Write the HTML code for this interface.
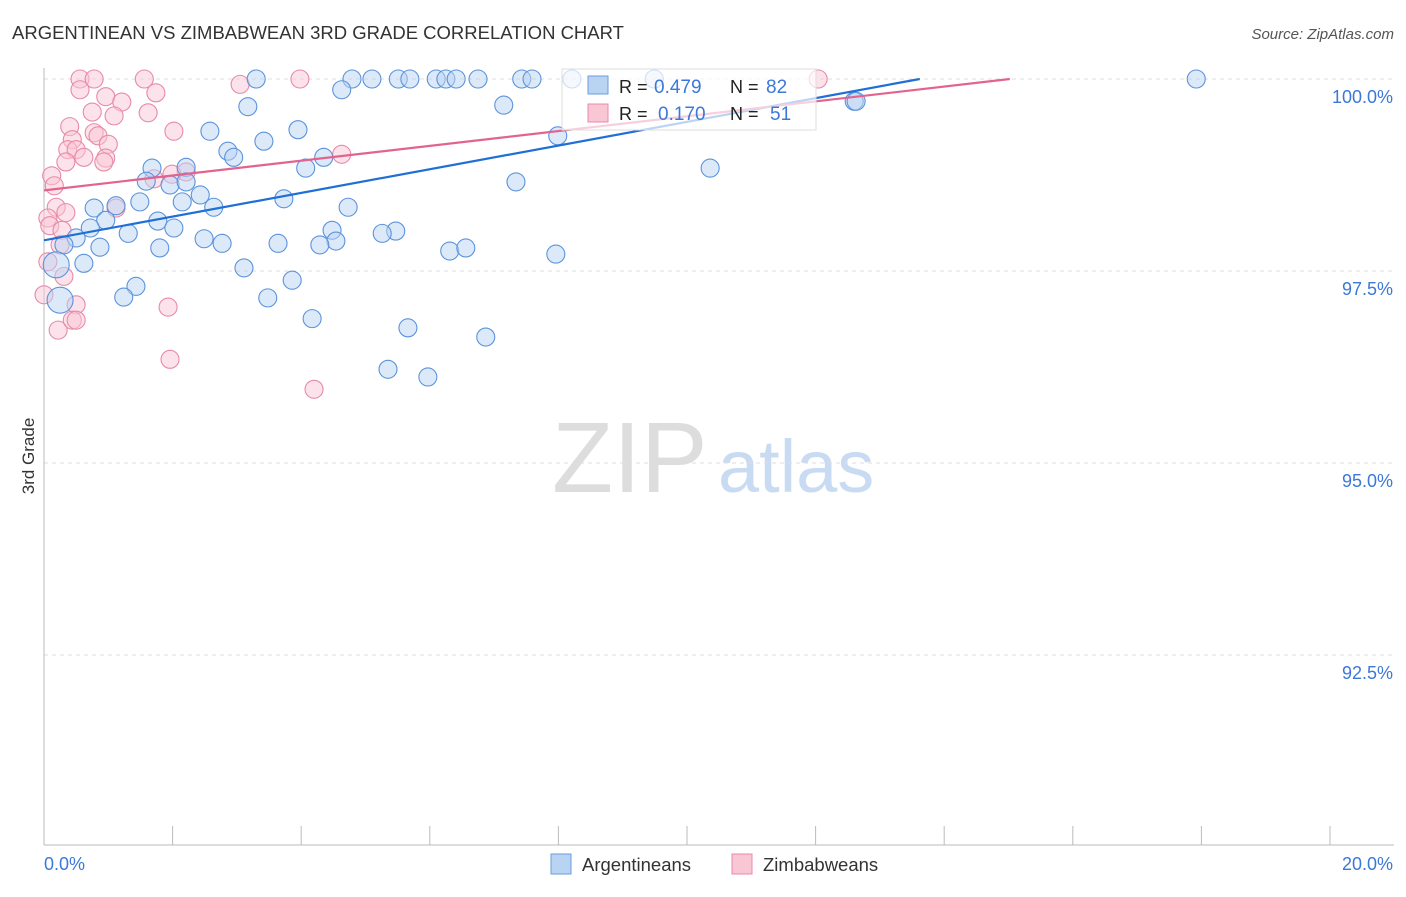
<!DOCTYPE html>
<html><head><meta charset="utf-8"><style>
body{margin:0;background:#fff;font-family:"Liberation Sans",sans-serif}
svg text{font-family:"Liberation Sans",sans-serif}
</style></head><body>
<svg id="c" width="1406" height="892">
<text x="12" y="39" font-size="18.5" fill="#333">ARGENTINEAN VS ZIMBABWEAN 3RD GRADE CORRELATION CHART</text>
<text x="1394" y="39" font-size="15" font-style="italic" fill="#555" text-anchor="end">Source: ZipAtlas.com</text>
<text x="552" y="492" font-size="100" font-family="Liberation Serif" fill="#ddd">ZIP</text>
<text x="718" y="492" font-size="74" fill="#c9dbf2">atlas</text>
<text transform="translate(34,456) rotate(-90)" font-size="17" fill="#333" text-anchor="middle">3rd Grade</text>
<g id="grid"></g><g id="pts"></g><g id="lines"></g>
<g>
<rect x="562" y="69" width="254" height="61" fill="#fff" fill-opacity="0.7" stroke="#ddd"/>
<rect x="588" y="76" width="20" height="18" fill="#b9d3f3" stroke="#6a9ee0"/>
<text x="619" y="93" font-size="18" fill="#222">R =</text>
<text x="654" y="93" font-size="19" fill="#3b78d8">0.479</text>
<text x="730" y="93" font-size="18" fill="#222">N =</text>
<text x="766" y="93" font-size="19" fill="#3b78d8">82</text>
<rect x="588" y="104" width="20" height="18" fill="#f9c6d6" stroke="#e88aa8"/>
<text x="619" y="120" font-size="18" fill="#222">R =</text>
<text x="658" y="120" font-size="19" fill="#3b78d8">0.170</text>
<text x="730" y="120" font-size="18" fill="#222">N =</text>
<text x="770" y="120" font-size="19" fill="#3b78d8">51</text>
</g>
<g>
<rect x="551" y="854" width="20" height="20" fill="#b9d3f3" stroke="#6a9ee0"/>
<text x="582" y="871" font-size="18.5" fill="#333">Argentineans</text>
<rect x="732" y="854" width="20" height="20" fill="#f9c6d6" stroke="#e88aa8"/>
<text x="763" y="871" font-size="18.5" fill="#333">Zimbabweans</text>
</g>
</svg>
<script>
const yTicks=[100,97.5,95,92.5];
const yTickLabels=["100.0%","97.5%","95.0%","92.5%"];
const xTickLabels=["0.0%","20.0%"];
const blueX=[3.30,4.79,5.10,5.51,5.69,6.10,6.25,6.41,6.75,7.43,7.59,8.21,9.49,17.92,4.63,3.17,7.15,12.60,2.58,3.95,3.42,2.86,2.95,4.35,4.07,1.68,10.36,2.21,1.59,1.96,2.21,7.34,7.99,2.43,3.73,1.49,2.15,0.78,1.12,2.64,4.73,1.77,0.96,4.48,0.72,2.02,1.31,5.47,5.26,0.50,2.49,2.77,3.64,4.54,4.29,0.31,0.87,1.80,6.31,6.56,7.96,0.19,0.62,3.11,3.86,1.43,1.24,3.48,0.25,4.17,5.66,6.87,5.35,5.97,12.63];
const blueY=[100,100,100,100,100,100,100,100,100,100,100,100,100,100,99.86,99.64,99.66,99.71,99.32,99.34,99.19,99.06,98.98,98.98,98.84,98.84,98.84,98.85,98.67,98.62,98.66,98.66,99.26,98.49,98.44,98.40,98.40,98.32,98.35,98.33,98.33,98.15,98.16,98.03,98.06,98.06,97.99,98.02,97.99,97.93,97.92,97.86,97.86,97.89,97.84,97.84,97.81,97.80,97.76,97.80,97.72,97.58,97.60,97.54,97.38,97.30,97.16,97.15,97.12,96.88,96.76,96.64,96.22,96.12,99.71];
const pinkX=[0.56,0.78,1.56,3.98,12.04,3.05,0.56,1.74,0.96,1.21,0.75,1.62,1.09,2.02,0.40,0.78,0.84,0.44,1.00,0.37,0.50,0.62,0.96,0.93,0.34,2.21,1.71,0.12,0.16,1.12,0.19,0.34,0.06,0.09,0.28,0.25,0.0,0.31,0.50,0.22,0.44,0.50,1.93,1.96,4.20,4.63,1.99,0.06];
const pinkY=[100,100,100,100,100,99.93,99.86,99.82,99.77,99.70,99.57,99.56,99.52,99.32,99.38,99.30,99.26,99.21,99.15,99.08,99.08,98.98,98.97,98.92,98.92,98.79,98.70,98.74,98.61,98.32,98.33,98.26,98.19,98.09,98.03,97.84,97.19,97.43,97.06,96.73,96.86,96.86,97.03,96.35,95.96,99.02,98.76,97.62];
const blueTrendX=[0,13.62], blueTrendY=[97.90,100];
const pinkTrendX=[0,15.02], pinkTrendY=[98.55,100];
const X=v=>44+v/20*1286, Y=v=>79+(100-v)/2.5*192;
const NS="http://www.w3.org/2000/svg";
function mk(t,a,p){const e=document.createElementNS(NS,t);for(const k in a)e.setAttribute(k,a[k]);p.appendChild(e);return e;}
const g=document.getElementById('grid');
yTicks.forEach((t,i)=>{
 const l=mk('line',{x1:44,x2:1394,y1:Y(t),y2:Y(t),stroke:'#ddd','stroke-dasharray':'4,4'},g);
 
 
 const tx=mk('text',{x:1393,y:Y(t)+24,'font-size':18,fill:'#3b78d8','text-anchor':'end'},g);tx.textContent=yTickLabels[i];
 
 
});
const ax=mk('line',{x1:44,x2:44,y1:68,y2:845,stroke:'#bbb'},g);


const bx=mk('line',{x1:44,x2:1394,y1:845,y2:845,stroke:'#bbb'},g);


for(let i=0;i<=10;i++){const t=mk('line',{x1:X(i*2),x2:X(i*2),y1:826,y2:845,stroke:'#bbb'},g);
 
 }
[0,20].forEach((v,i)=>{const t=mk('text',{x:i?1393:44,y:870,'font-size':18,fill:'#3b78d8','text-anchor':i?'end':'start'},g);t.textContent=xTickLabels[i];
 
 });
const p=document.getElementById('pts');
function pts(xs,ys,fill,stroke,name){xs.forEach((x,i)=>{
 const big=(name==='argentinean-point'&&(i===61||i===68));
 const c=mk('circle',{cx:X(x),cy:Y(ys[i]),r:big?13:9,fill:fill,'fill-opacity':0.5,stroke:stroke,'stroke-width':1.1},p);
 
 });}
pts(pinkX,pinkY,'#f9c6d6','#e88aa8','zimbabwean-point');
pts(blueX,blueY,'#b9d3f3','#5b93dc','argentinean-point');
const L=document.getElementById('lines');
const b=mk('line',{x1:X(blueTrendX[0]),y1:Y(blueTrendY[0]),x2:X(blueTrendX[1]),y2:Y(blueTrendY[1]),stroke:'#1f6fd6','stroke-width':2.2},L);


const k=mk('line',{x1:X(pinkTrendX[0]),y1:Y(pinkTrendY[0]),x2:X(pinkTrendX[1]),y2:Y(pinkTrendY[1]),stroke:'#e2638e','stroke-width':2.2},L);


</script>
</body></html>
